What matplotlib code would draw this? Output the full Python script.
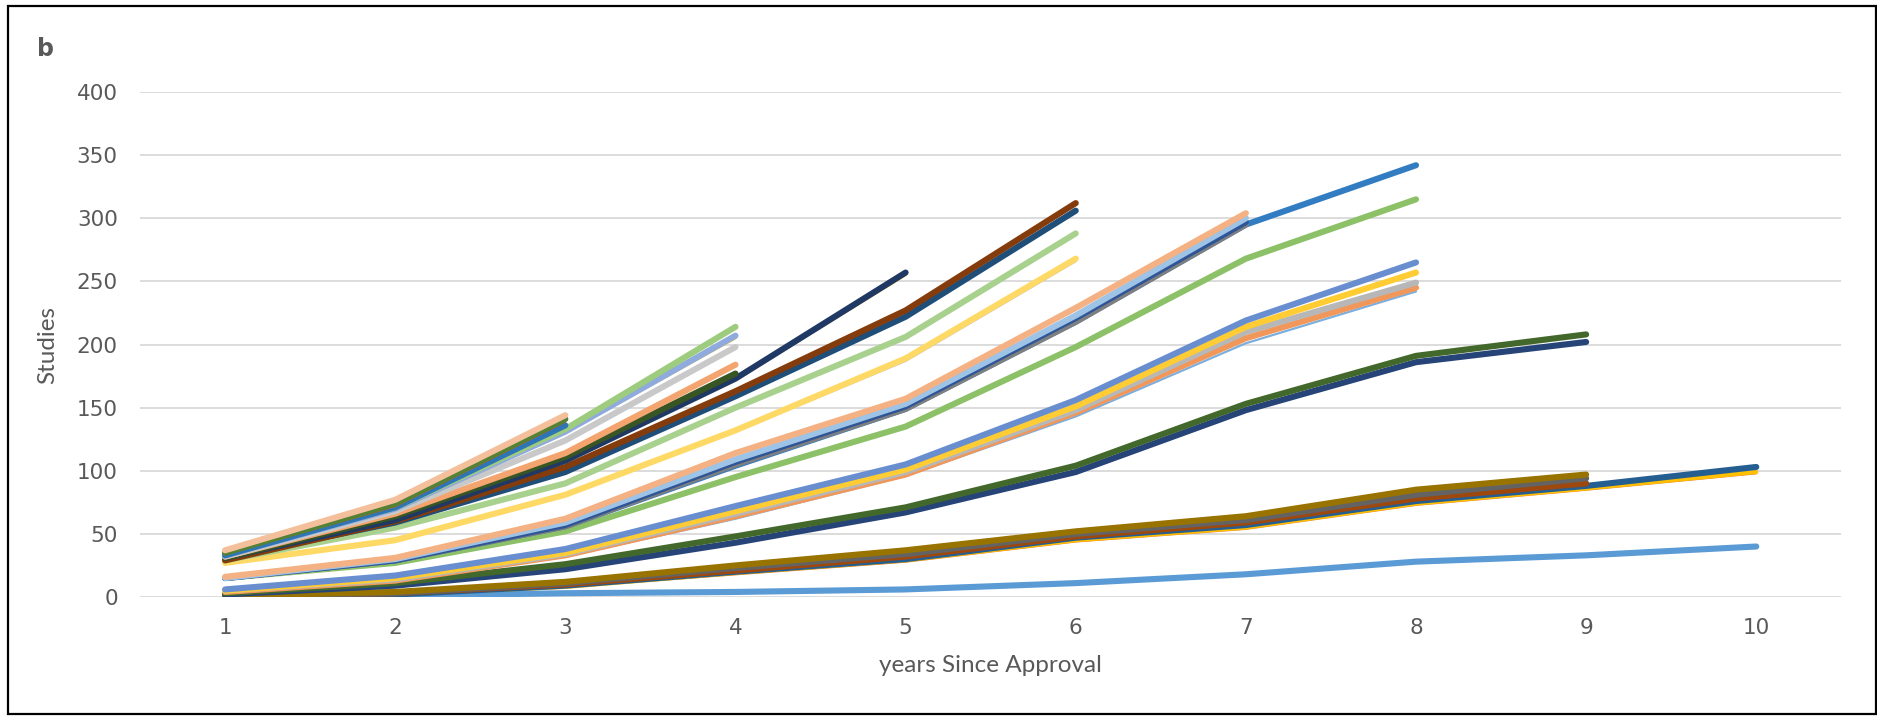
import matplotlib.pyplot as plt
from matplotlib.patches import Rectangle

years = list(range(1, 11))
y_ticks = [0, 50, 100, 150, 200, 250, 300, 350, 400]

# cumulative studies per drug, one value per year since approval
# drugs on the market for 10 years
low_blue = [0, 1, 3, 4, 6, 11, 18, 28, 33, 40]
slow_blue = [0, 2, 9, 20, 30, 47, 57, 76, 88, 103]
slow_gold = [0, 2, 8, 19, 29, 45, 55, 74, 86, 99]
slow_orange = [0, 1, 8, 18, 28, 44, 54, 73, 85, 98]
# 9 years
slow_olive = [1, 4, 12, 25, 37, 52, 64, 85, 97]
slow_gray = [1, 3, 11, 23, 34, 50, 61, 81, 94]
slow_brown = [0, 3, 10, 21, 32, 48, 59, 78, 90]
mid_green = [3, 11, 26, 48, 71, 104, 153, 191, 208]
mid_navy = [2, 9, 22, 43, 67, 99, 148, 186, 202]
# 8 years
y8_blue = [6, 17, 38, 72, 105, 156, 219, 265]
y8_gold = [5, 15, 35, 68, 101, 151, 214, 257]
y8_gray = [5, 14, 34, 66, 99, 148, 210, 249]
y8_orange = [4, 13, 33, 64, 97, 146, 205, 245]
y8_lightblue = [4, 13, 32, 62, 96, 143, 201, 242]
y8_green = [15, 27, 52, 95, 135, 198, 268, 315]
y8_top_blue = [15, 29, 56, 104, 149, 218, 295, 342]
# 7 years
y7_peach = [16, 31, 62, 114, 157, 229, 304]
y7_lightblue = [15, 30, 59, 109, 153, 223, 300]
y7_blue = [15, 29, 57, 107, 151, 221, 297]
y7_gray = [15, 29, 56, 105, 149, 218, 295]
# 6 years
y6_brown = [29, 60, 103, 163, 227, 312]
y6_blue = [31, 59, 99, 159, 222, 306]
y6_green = [29, 55, 90, 150, 206, 288]
y6_yellow = [27, 45, 81, 132, 189, 268]
y6_gray = [26, 44, 80, 131, 187, 266]
# 5 years
y5_navy = [31, 61, 108, 173, 257]
y5_gold = [30, 60, 107, 172, 255]
# 4 years
y4_green = [34, 71, 133, 214]
y4_blue = [33, 70, 131, 207]
y4_yellow = [33, 69, 130, 205]
y4_gray = [32, 68, 124, 198]
y4_orange = [32, 66, 114, 184]
y4_darkgreen = [31, 64, 111, 177]
# 3 years
y3_tan = [37, 77, 144]
y3_green = [35, 74, 141]
y3_red = [34, 72, 139]
y3_blue = [33, 71, 136]

THICK = 4.4
THIN = 1.6

# (values, colour, width) in drawing order
series = [
    (low_blue, '#5B9BD5', THICK),
    (slow_orange, '#ED7D31', THIN),
    (slow_gold, '#FFC000', 3.0),
    (slow_blue, '#255E91', THICK),
    (slow_brown, '#9E480E', THICK),
    (slow_gray, '#636363', THICK),
    (slow_olive, '#997300', THICK),
    (mid_navy, '#264478', THICK),
    (mid_green, '#43682B', THICK),
    (y8_lightblue, '#7CAFDD', THIN),
    (y8_orange, '#F1975A', THICK),
    (y8_gray, '#B7B7B7', THICK),
    (y8_gold, '#FFCD33', THICK),
    (y8_blue, '#698ED0', THICK),
    (y8_green, '#8CC168', THICK),
    (y8_top_blue, '#327DC2', THICK),
    (y7_gray, '#7F7F7F', THICK),
    (y7_blue, '#2F5597', THICK),
    (y7_lightblue, '#9DC3E6', THICK),
    (y7_peach, '#F4B183', THICK),
    (y6_gray, '#BFBFBF', THIN),
    (y6_yellow, '#FFD966', THICK),
    (y6_green, '#A9D18E', THICK),
    (y6_blue, '#1F4E79', THICK),
    (y6_brown, '#843C0C', THICK),
    (y5_gold, '#FFC000', THIN),
    (y5_navy, '#203864', THICK),
    (y4_darkgreen, '#375623', THICK),
    (y4_orange, '#F4A46E', THICK),
    (y4_gray, '#C9C9C9', THICK),
    (y4_yellow, '#FFC000', THIN),
    (y4_blue, '#8FAADC', THICK),
    (y4_green, '#9DCC7E', THICK),
    (y3_blue, '#2E75B6', THICK),
    (y3_red, '#C55A11', THIN),
    (y3_green, '#548235', THICK),
    (y3_tan, '#F4C09C', THICK),
]

fig = plt.figure(figsize=(18.77, 7.16), dpi=100)
ax = fig.add_axes([0.0746, 0.1662, 0.9064, 0.7053])

for vals, col, lw in series:
    ax.plot(years[:len(vals)], vals, color=col, lw=lw,
            solid_capstyle='round', solid_joinstyle='round')

ax.set_xlim(0.5, 10.5)
ax.set_ylim(0, 400)
ax.set_xticks(years)
ax.set_yticks(y_ticks)
ax.grid(axis='y', color='#D9D9D9', lw=1.3)
ax.set_axisbelow(True)
for sp in ax.spines.values():
    sp.set_visible(False)
ax.tick_params(length=0, labelsize=15.5, labelcolor='#595959')
ax.tick_params(axis='y', pad=16)
ax.tick_params(axis='x', pad=15)

ax.set_xlabel('years Since Approval', fontsize=17.5, color='#595959',
              family='Lato', labelpad=12)
ax.set_ylabel('Studies', fontsize=17.5, color='#595959', family='Lato',
              labelpad=13)

fig.text(0.0197, 0.932, 'b', fontsize=17, fontweight='bold', color='#595959',
         va='center')

# outer chart border
fig.patches.append(Rectangle((0.004, 0.003), 0.9955, 0.988,
                             transform=fig.transFigure, fill=False,
                             edgecolor='black', lw=1.6))

fig.savefig('out.png', dpi=100)
